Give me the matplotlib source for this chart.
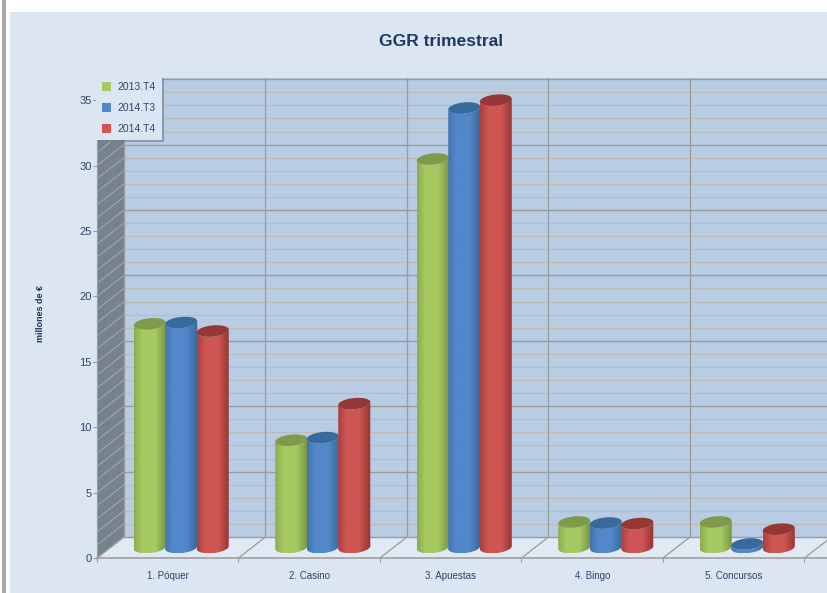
import numpy as np
import matplotlib
matplotlib.use('Agg')
import matplotlib.pyplot as plt
from matplotlib.colors import LinearSegmentedColormap
from matplotlib.patches import Patch, Polygon, Rectangle

plt.rcParams['font.family'] = ['Liberation Sans', 'DejaVu Sans']

categories = ['1. Póquer', '2. Casino', '3. Apuestas', '4. Bingo', '5. Concursos']
series = ['2013.T4', '2014.T3', '2014.T4']
t4_2013 = [17.1, 8.2, 29.7, 1.95, 1.95]
t3_2014 = [17.2, 8.4, 33.6, 1.87, 0.27]
t4_2014 = [16.55, 11.0, 34.2, 1.83, 1.4]
values = [t4_2013, t3_2014, t4_2014]
y_ticks = [0, 5, 10, 15, 20, 25, 30, 35]

# colours: edge, centre, dark edge, cap
colours = [('#8dab4e', '#a6c961', '#76913f', '#7f9a48'),
           ('#4274ad', '#5288ca', '#386595', '#386a9e'),
           ('#a8403e', '#ce5652', '#8f3331', '#953735')]
bg = '#dce6f2'

# pixel scale of the chart
W, H = 828, 593
px_x = 141.5   # one category
px_y = 13.08   # one million
left, bottom, top = 97, 558, 78
depth_x = 27 / px_x
depth_y = 21 / px_y

fig = plt.figure(figsize=(W / 100, H / 100), dpi=100, facecolor='white')
fig.patches.append(Rectangle((10 / W, 0), 1, 1 - 12 / H, transform=fig.transFigure,
                             fc=bg, ec='none', zorder=-5))
fig.patches.append(Rectangle((2 / W, 0), 4 / W, 1, transform=fig.transFigure,
                             fc='#a9a9a9', ec='none', zorder=-5))

ax = fig.add_axes([left / W, (H - bottom) / H, (W - left) / W, (bottom - top) / H])
ax.patch.set_alpha(0)
y_max = (bottom - top) / px_y
x_max = (W - left) / px_x

# back wall, floor and side wall
ax.add_patch(Rectangle((depth_x, depth_y), x_max, y_max - depth_y, fc='#b8cce4', ec='none', zorder=1))
ax.add_patch(Polygon([(0, 0), (x_max + 1, 0), (x_max + 1, depth_y), (depth_x, depth_y)],
                     fc='#e1e9f4', ec='none', zorder=1))
ax.add_patch(Polygon([(0, 0), (depth_x, depth_y), (depth_x, y_max), (0, y_max - depth_y)],
                     fc='#76838f', ec='none', zorder=1))

for v in range(0, 36):
    major = v % 5 == 0
    ax.plot([depth_x, x_max], [v + depth_y, v + depth_y], zorder=2, clip_on=True,
            color='#9c9c9c' if major else '#bdbcb6', lw=1.0 if major else 0.9)
    ax.plot([0, depth_x], [v, v + depth_y], zorder=2, color='#a7aaaa', lw=0.7)
for c in range(0, 6):
    ax.plot([c + depth_x, c + depth_x], [depth_y, y_max], zorder=2, color='#9a9a9a', lw=0.9)
    ax.plot([c, c + depth_x], [0, depth_y], zorder=2, color='#9a9a9a', lw=0.9)

# cylinders
r = 15.5 / px_x
k = 4 / px_x
e = 5.8 / px_y
mid_x, mid_y = depth_x / 2, depth_y / 2
spread = 31.5 / px_x
t0 = np.arctan2(k, r)
half = np.hypot(r, k)
arc = np.linspace(t0, t0 - np.pi, 50)
full = np.linspace(0, 2 * np.pi, 80)
grad = np.linspace(0, 1, 128).reshape(1, -1)
z = 5
for s in range(len(series)):
    edge, centre, dark, cap = colours[s]
    cmap = LinearSegmentedColormap.from_list(
        'c', [(0, edge), (0.25, centre), (0.65, centre), (1, dark)], N=128)
    for c in range(len(categories)):
        cx = c + 0.5 + mid_x + (s - 1) * spread
        val = values[s][c]
        xb = cx + r * np.cos(arc) + k * np.sin(arc)
        yb = mid_y + e * np.sin(arc)
        body = np.vstack([np.column_stack([xb, yb]),
                          np.column_stack([xb, yb + val])[::-1]])
        poly = Polygon(body, fc='none', ec='none', zorder=z)
        ax.add_patch(poly)
        im = ax.imshow(grad, cmap=cmap, aspect='auto', zorder=z,
                       extent=(cx - half, cx + half, mid_y - e, mid_y + val + e))
        im.set_clip_path(poly)
        ax.fill(cx + r * np.cos(full) + k * np.sin(full),
                mid_y + val + e * np.sin(full), color=cap, lw=0, zorder=z)
        z += 0.1

ax.set_xlim(0, x_max)
ax.set_ylim(0, y_max)

for side in ['top', 'right']:
    ax.spines[side].set_visible(False)
ax.spines['left'].set_bounds(0, y_max - depth_y)
ax.spines['left'].set_color('#9a9a9a')
ax.spines['bottom'].set_color('#9a9a9a')
ax.spines['bottom'].set_linewidth(1.1)

ax.set_yticks(y_ticks)
ax.set_xticks(np.arange(6))
ax.set_xticklabels([])
ax.set_xticks(np.arange(5) + 0.5, labels=categories, minor=True)
ax.tick_params(axis='x', which='major', length=3, color='#9a9a9a')
ax.tick_params(axis='x', which='minor', length=0, labelsize=7, labelcolor='#2f4468', pad=9.5)
ax.tick_params(axis='y', length=3, color='#9a9a9a', labelsize=8, labelcolor='#2f4468', pad=1)

ax.set_ylabel('millones de €', fontsize=6.5, fontweight='bold', color='#1f3556')
ax.yaxis.set_label_coords((45 - left) / (W - left), (bottom - 313) / (bottom - top))

fig.text(441 / W, 1 - 42 / H, 'GGR trimestral', ha='center', va='center',
         fontsize=12.5, fontweight='bold', color='#1f3864')

handles = [Patch(fc=colours[s][1], label=series[s]) for s in range(len(series))]
leg = ax.legend(handles=handles, loc='upper left',
                bbox_to_anchor=((96 - left) / (W - left), (bottom - 76) / (bottom - top)),
                borderaxespad=0, frameon=True, fancybox=False, framealpha=1,
                facecolor=bg, edgecolor='none', fontsize=7.5, labelcolor='#2f4468',
                handlelength=0.85, handleheight=0.85, handletextpad=0.6,
                labelspacing=1.05, borderpad=0.6,
                shadow={'facecolor': '#6f7a88', 'edgecolor': 'none', 'alpha': 0.6, 'ox': 1.5, 'oy': -1.5})
leg.set_zorder(50)

plt.savefig('out.png', dpi=100, facecolor=fig.get_facecolor())
